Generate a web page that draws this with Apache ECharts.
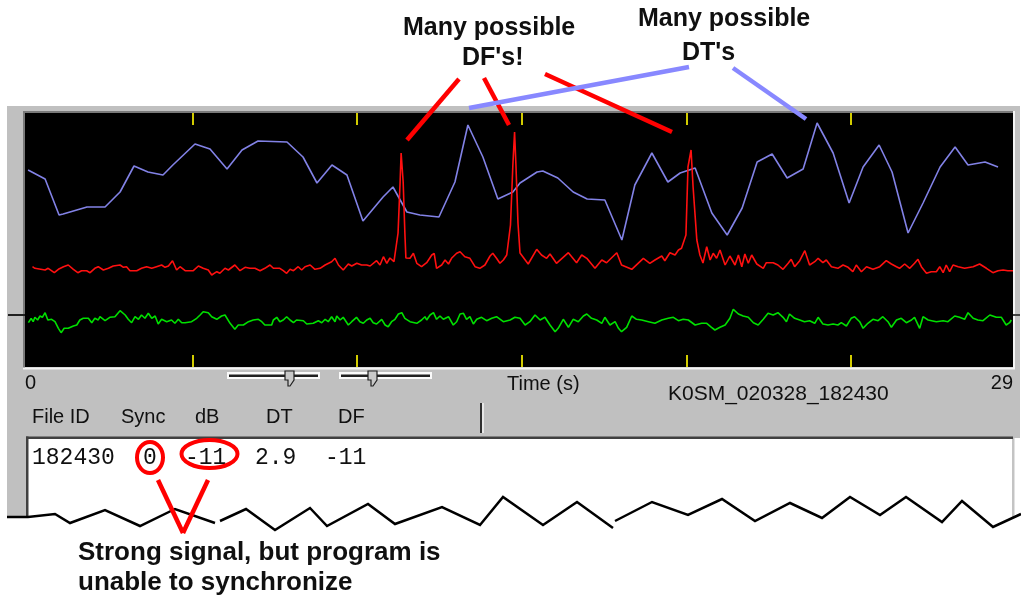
<!DOCTYPE html>
<html>
<head>
<meta charset="utf-8">
<script src="https://cdn.jsdelivr.net/npm/echarts@6.0.0/dist/echarts.min.js"></script>
<style>
html,body{margin:0;padding:0;background:#fff;}
#c{width:1021px;height:605px;}
</style>
</head>
<body>
<div id="c"></div>
<script>
// ---- data (time in seconds, amplitude in arbitrary display units) ----
const blueCurve = [[0.09,197],[0.59,188],[1.00,152],[1.12,153],[1.82,160],[2.35,160],[2.79,175],[3.20,201],[3.61,195],[4.05,192],[4.34,202],[4.99,223],[5.43,218],[5.93,198],[6.37,217],[6.84,226],[7.69,225],[8.16,210],[8.57,184],[9.01,202],[9.45,192],[9.92,146],[10.51,170],[10.80,180],[11.21,155],[11.59,152],[12.15,150],[12.62,185],[13.00,242],[13.44,210],[13.88,168],[14.32,175],[14.53,184],[15.03,195],[15.20,196],[15.64,189],[16.09,175],[16.50,168],[17.02,167],[17.52,127],[17.90,182],[18.40,214],[18.87,185],[19.23,194],[19.67,199],[20.16,154],[20.61,132],[21.05,159],[21.49,205],[21.93,213],[22.37,189],[22.84,198],[23.25,244],[23.72,214],[24.19,164],[24.60,200],[25.07,222],[25.45,195],[25.92,134],[26.36,164],[26.86,200],[27.30,220],[27.68,202],[28.18,205],[28.56,200]];

const redCurve = [[0.22,100.3],[0.29,98.7],[0.59,97],[0.68,98.7],[0.86,94.3],[0.98,97.7],[1.13,100.3],[1.27,102],[1.42,97.7],[1.55,94.3],[1.66,96.3],[1.81,96.3],[1.91,94.3],[2.05,98.7],[2.15,100.3],[2.30,97],[2.45,98.7],[2.59,101],[2.79,102],[2.89,99.7],[2.98,100.3],[3.08,96.3],[3.28,96.3],[3.42,98.7],[3.57,100.3],[3.72,98.7],[3.86,100.3],[4.01,102],[4.11,99.7],[4.21,101],[4.33,106.3],[4.45,97],[4.55,100.3],[4.70,96.3],[4.94,96.3],[5.09,101],[5.23,98.7],[5.38,97],[5.48,92],[5.63,95.3],[5.72,93.7],[5.87,98.7],[5.97,97],[6.16,102],[6.31,96.3],[6.46,99.7],[6.60,98.7],[6.75,98.7],[6.90,96.3],[7.04,98.7],[7.19,102],[7.29,98.7],[7.48,98.7],[7.58,96.3],[7.68,93.7],[7.78,97.7],[7.88,96.3],[8.02,100.3],[8.12,97],[8.22,100.3],[8.37,102],[8.51,97.7],[8.66,98.7],[8.81,102],[9.00,105.3],[9.10,108.7],[9.20,102],[9.34,97],[9.49,103],[9.59,101],[9.74,103.7],[9.88,102],[10.03,102],[10.13,101],[10.32,106.3],[10.42,102],[10.52,110.3],[10.62,103.7],[10.71,109],[10.76,111],[10.83,105.3],[10.95,134],[11.01,185],[11.04,214],[11.10,185],[11.15,134],[11.18,109],[11.30,108.7],[11.40,113.7],[11.50,103.7],[11.64,100.3],[11.79,104.3],[11.94,112],[12.01,113.7],[12.08,98.7],[12.23,102],[12.33,107],[12.43,103],[12.52,108.7],[12.67,113.7],[12.77,115.3],[12.91,110.3],[13.06,108.7],[13.21,100.3],[13.35,98.7],[13.50,102],[13.65,111],[13.73,113.7],[13.84,108.7],[13.94,103.7],[14.04,107],[14.14,112],[14.18,112],[14.25,142],[14.32,202],[14.37,235],[14.41,202],[14.47,144],[14.53,114],[14.77,103],[15.02,117.7],[15.16,112],[15.31,108.7],[15.41,113],[15.60,103.7],[15.95,114.3],[16.19,104.3],[16.34,112],[16.49,108.7],[16.73,98.7],[16.93,107],[17.07,104.3],[17.37,114.3],[17.51,102],[17.81,97.7],[18.15,108.7],[18.34,103.7],[18.49,107],[18.69,111],[18.78,106.3],[18.93,114.3],[19.08,112],[19.18,117],[19.27,118.7],[19.40,132],[19.46,200],[19.55,217],[19.61,180],[19.72,127],[19.81,112],[19.90,104],[20.01,120.3],[20.11,107],[20.20,113.7],[20.30,108.7],[20.40,117],[20.55,102],[20.69,111],[20.84,102],[20.94,112],[21.04,100.3],[21.13,113],[21.23,103.7],[21.33,112],[21.48,103],[21.67,98.7],[21.76,104.3],[21.96,104.3],[22.10,102],[22.25,97.7],[22.40,103.7],[22.49,107.7],[22.59,100.3],[22.74,106.3],[22.89,116.3],[23.03,102],[23.18,105.3],[23.28,108.7],[23.42,104.3],[23.52,107],[23.67,100.3],[23.86,98.7],[24.01,102],[24.16,99.7],[24.30,95.3],[24.40,102],[24.55,95.3],[24.70,100.3],[24.89,97.7],[25.09,100.3],[25.28,106.3],[25.43,103],[25.58,100.3],[25.67,98.7],[25.82,103],[25.97,98.7],[26.11,103.7],[26.21,107.7],[26.31,100.3],[26.46,93.7],[26.60,95.3],[26.75,95.3],[26.85,100.3],[26.95,94.3],[27.04,102],[27.14,95.3],[27.24,102],[27.39,100.3],[27.58,98.7],[27.83,100.3],[28.02,103],[28.22,98.7],[28.41,94.3],[28.56,96.3],[28.71,97],[28.85,96.3],[29.00,96.3]];

const greenCurve = [[0.10,44.3],[0.18,48.7],[0.24,45.3],[0.29,49.7],[0.37,47],[0.44,51],[0.51,49.7],[0.59,54.3],[0.67,47],[0.78,47.7],[0.88,45.3],[0.98,38.7],[1.06,34.3],[1.15,38.7],[1.27,38.7],[1.42,41],[1.52,42],[1.61,47],[1.71,48.7],[1.86,48.7],[1.96,44.3],[2.05,48.7],[2.15,47],[2.20,50.3],[2.35,46.3],[2.49,49.7],[2.64,50.3],[2.79,56.3],[2.94,52],[3.03,47.7],[3.13,44.3],[3.23,50.3],[3.33,47.7],[3.42,52],[3.52,48.7],[3.62,53.7],[3.72,48.7],[3.82,51],[3.91,43],[4.01,47.7],[4.16,45.3],[4.30,47],[4.40,43.7],[4.50,47.7],[4.60,44.3],[4.70,44.3],[4.89,45.3],[5.04,48.7],[5.14,52],[5.23,55.3],[5.38,54.3],[5.48,50.3],[5.63,47.7],[5.77,51],[5.87,52],[6.02,43.7],[6.16,37.7],[6.26,42],[6.41,42],[6.56,45.3],[6.70,47],[6.85,47.7],[6.95,45.3],[7.04,42],[7.24,42],[7.29,47],[7.39,49.7],[7.48,45.3],[7.58,47],[7.68,50.3],[7.78,47],[7.88,44.3],[7.97,47],[8.17,46.3],[8.27,43],[8.46,43.7],[8.61,46.3],[8.71,44.3],[8.81,47.7],[8.90,45.3],[9.00,50.3],[9.10,45.3],[9.15,51],[9.25,47],[9.34,49.7],[9.49,42],[9.59,45.3],[9.73,49.7],[9.83,45.3],[9.93,43.7],[10.03,47],[10.13,48.7],[10.22,44.3],[10.32,43],[10.47,47.7],[10.57,42],[10.66,40.3],[10.76,45.3],[10.86,47.7],[10.96,53],[11.06,54.3],[11.15,48.7],[11.30,45.3],[11.50,43.7],[11.64,47],[11.74,50.3],[11.79,47],[11.89,52],[11.99,54.3],[12.08,47.7],[12.18,51],[12.28,47.7],[12.43,50.3],[12.57,42],[12.67,45.3],[12.77,53],[12.87,53.7],[12.96,47.7],[13.06,50.3],[13.16,43],[13.26,47.7],[13.40,49.7],[13.55,46.3],[13.70,48.7],[13.84,50.3],[14.04,45.3],[14.24,47],[14.38,49.7],[14.53,48.7],[14.68,42],[14.82,45.3],[14.97,52],[15.12,47],[15.26,49.7],[15.41,42],[15.56,35.3],[15.65,38.7],[15.80,47.7],[15.95,39.7],[16.09,47.7],[16.24,45.3],[16.39,51],[16.49,53],[16.63,48.7],[16.78,47],[16.93,43.7],[17.02,49.7],[17.17,42],[17.32,45.3],[17.42,38.7],[17.51,35.3],[17.66,39.7],[17.81,51],[17.95,47.7],[18.10,47],[18.30,45.3],[18.49,43.7],[18.69,47],[18.88,48.7],[19.03,49.7],[19.18,46.3],[19.32,47.7],[19.47,47],[19.67,42],[19.86,43.7],[20.01,43.7],[20.15,39.7],[20.25,37],[20.40,39.7],[20.55,42],[20.69,48.7],[20.79,57.7],[20.94,53],[21.08,51],[21.23,49.7],[21.38,44.3],[21.52,42],[21.67,47.7],[21.81,53.7],[21.96,52],[22.10,54.3],[22.25,49.7],[22.35,45.3],[22.44,53],[22.59,48.7],[22.74,47],[22.88,45.3],[23.03,46.3],[23.18,43.7],[23.28,49.7],[23.42,43],[23.57,42],[23.72,43],[23.86,42],[23.96,44.3],[24.11,41],[24.25,48.7],[24.35,50.3],[24.50,45.3],[24.60,38.7],[24.74,43.7],[24.89,47.7],[25.04,46.3],[25.18,50.3],[25.33,45.3],[25.43,39.7],[25.58,47],[25.72,48.7],[25.87,44.3],[26.02,47],[26.11,49.7],[26.26,38.7],[26.36,50.3],[26.51,47],[26.75,45.3],[26.95,46.3],[27.09,45.3],[27.29,51],[27.43,49.7],[27.58,47.7],[27.68,54.3],[27.83,48.7],[27.97,47],[28.12,46.3],[28.32,52],[28.51,49.7],[28.66,49.7],[28.80,42],[28.90,44.3],[28.95,47]];

const xTickValues = [4.93, 9.75, 14.59, 19.43, 24.25];
const xLabelValues = [0, 29];
const yTickValues = [52];
const tableHeaders = ['File ID', 'Sync', 'dB', 'DT', 'DF'];
const tableRow = ['182430', '0', '-11', '2.9', '-11'];
const axisTitle = 'Time (s)';
const fileName = 'K0SM_020328_182430';
const noteDF = ['Many possible', "DF's!"];
const noteDT = ['Many possible', "DT's"];
const noteSync = ['Strong signal, but program is', 'unable to synchronize'];

// ---- layout / decoration ----
const SANS = "'Liberation Sans', Arial, sans-serif";
const MONO = "'Liberation Mono', 'Courier New', monospace";
const TXT = '#101010';

function text(str, x, y, size, opts) {
  opts = opts || {};
  return {
    type: 'text', z: opts.z || 50,
    style: {
      text: str, x: x, y: y, fill: opts.fill || TXT,
      font: (opts.weight || 'normal') + ' ' + size + 'px ' + (opts.family || SANS),
      textAlign: opts.align || 'left', textVerticalAlign: 'middle'
    }
  };
}
function seg(x1, y1, x2, y2, color, w, z) {
  return { type: 'line', z: z || 100, shape: {x1, y1, x2, y2},
    style: { stroke: color, lineWidth: w } };
}

const zig1 = [[7,517],[28,517],[55,514],[70,523],[105,510],[140,526],[175,509],[215,523]];
const zig2 = [[220,521],[246,509],[275,530],[310,508],[327,526],[368,504],[395,524],[442,507],[480,525],[503,497],[543,525],[577,502],[613,528]];
const zig3 = [[615,521],[652,502],[688,515],[722,499],[755,521],[790,503],[822,518],[850,497],[880,515],[906,497],[942,522],[962,501],[993,527],[1021,514]];
const cover = zig1.concat(zig2, zig3, [[1021,605],[0,605],[0,517]]);

const headerX = [32, 121, 195, 266, 338];
const rowX = [32, 143, 185, 255, 325];

const graphics = [
  // window panel
  { type: 'rect', z: -10, shape: {x: 7, y: 106, width: 1013, height: 411}, style: {fill: '#c0c0c0'} },
  // plot bevel
  { type: 'rect', z: -9, shape: {x: 23, y: 111, width: 992, height: 2}, style: {fill: '#7a7a7a'} },
  { type: 'rect', z: -9, shape: {x: 23, y: 111, width: 2, height: 257}, style: {fill: '#7a7a7a'} },
  { type: 'rect', z: -9, shape: {x: 23, y: 367.5, width: 992, height: 2}, style: {fill: '#f4f4f4'} },
  { type: 'rect', z: -9, shape: {x: 1013, y: 111, width: 2, height: 258}, style: {fill: '#f4f4f4'} },
  // list box
  { type: 'rect', z: -9, shape: {x: 27, y: 438, width: 994, height: 167}, style: {fill: '#ffffff'} },
  { type: 'rect', z: -8.9, shape: {x: 1012, y: 438, width: 2.5, height: 90}, style: {fill: '#c4c4c4'} },
  { type: 'rect', z: -8.5, shape: {x: 26, y: 436.5, width: 987, height: 2.5}, style: {fill: '#404040'} },
  { type: 'rect', z: -8.5, shape: {x: 26, y: 436.5, width: 2.5, height: 100}, style: {fill: '#404040'} },
  // torn-off edge
  { type: 'polygon', z: -8, shape: {points: cover}, style: {fill: '#ffffff'} },
  { type: 'polyline', z: -7, shape: {points: zig1}, style: {stroke: '#000', lineWidth: 2.5, fill: null} },
  { type: 'polyline', z: -7, shape: {points: zig2}, style: {stroke: '#000', lineWidth: 2.5, fill: null} },
  { type: 'polyline', z: -7, shape: {points: zig3}, style: {stroke: '#000', lineWidth: 2.5, fill: null} },
  // sliders
  { type: 'rect', z: 5, shape: {x: 227, y: 372, width: 93, height: 7}, style: {fill: '#fafafa'} },
  { type: 'rect', z: 6, shape: {x: 229, y: 374.5, width: 89, height: 2.5}, style: {fill: '#202020'} },
  { type: 'polygon', z: 7, shape: {points: [[285,371],[294,371],[294,380],[290,386],[288,386],[288,380],[285,380]]}, style: {fill: '#c8c8c8', stroke: '#202020', lineWidth: 1.2} },
  { type: 'rect', z: 5, shape: {x: 339, y: 372, width: 93, height: 7}, style: {fill: '#fafafa'} },
  { type: 'rect', z: 6, shape: {x: 341, y: 374.5, width: 89, height: 2.5}, style: {fill: '#202020'} },
  { type: 'polygon', z: 7, shape: {points: [[368,371],[377,371],[377,380],[373,386],[371,386],[371,380],[368,380]]}, style: {fill: '#c8c8c8', stroke: '#202020', lineWidth: 1.2} },
  // header separator
  seg(481, 403, 481, 433, '#303030', 2, 5),
  seg(483, 403, 483, 433, '#f4f4f4', 1.5, 5),
  // labels in panel
  text(axisTitle, 507, 384, 20),
  text(fileName, 668, 394, 21),
  // annotation texts
  text(noteDF[0], 403, 28, 25, {weight: 'bold'}),
  text(noteDF[1], 462, 58, 25, {weight: 'bold'}),
  text(noteDT[0], 638, 19.5, 25, {weight: 'bold'}),
  text(noteDT[1], 682, 53, 25, {weight: 'bold'}),
  text(noteSync[0], 78, 552.5, 26, {weight: 'bold'}),
  text(noteSync[1], 78, 582.5, 26, {weight: 'bold'}),
  // red pointers
  seg(459, 79, 407, 140, '#ff0000', 4.5),
  seg(484, 78, 509, 125, '#ff0000', 4.5),
  seg(545, 74, 672, 132, '#ff0000', 4.5),
  // blue pointers
  seg(469, 108, 689, 67, '#8888ff', 4.5, 101),
  seg(733, 68, 806, 119, '#8888ff', 4.5, 101),
  // circles in the list
  { type: 'ellipse', z: 100, shape: {cx: 150, cy: 457.5, rx: 13, ry: 15.5}, style: {stroke: '#ff0000', lineWidth: 4, fill: null} },
  { type: 'ellipse', z: 100, shape: {cx: 209.5, cy: 454, rx: 28, ry: 14}, style: {stroke: '#ff0000', lineWidth: 4, fill: null} },
  seg(158, 480, 183, 533, '#ff0000', 4.5),
  seg(208, 480, 183, 533, '#ff0000', 4.5)
];
tableHeaders.forEach((h, i) => graphics.push(text(h, headerX[i], 417, 20)));
tableRow.forEach((c, i) => graphics.push(text(c, rowX[i], 458, 23, {family: MONO})));

const chart = echarts.init(document.getElementById('c'), null, {renderer: 'canvas'});
function tickStyle() {
  return {show: true, inside: true, length: 12, customValues: xTickValues.slice(), lineStyle: {color: '#d2cc00', width: 2}};
}
chart.setOption({
  animation: false,
  backgroundColor: '#ffffff',
  grid: {left: 25, top: 113, width: 988, height: 254, show: true, backgroundColor: '#000000', borderWidth: 0, containLabel: false},
  xAxis: [
    {type: 'value', position: 'bottom', min: 0, max: 29,
     axisLine: {show: false, onZero: false}, splitLine: {show: false}, axisTick: tickStyle(),
     axisLabel: {show: true, customValues: xLabelValues, color: TXT, fontSize: 20, fontFamily: SANS, margin: 6,
                 alignMinLabel: 'left', alignMaxLabel: 'right', showMinLabel: true, showMaxLabel: true}},
    {type: 'value', position: 'top', min: 0, max: 29,
     axisLine: {show: false, onZero: false}, splitLine: {show: false}, axisTick: tickStyle(),
     axisLabel: {show: true, customValues: xTickValues.slice(), formatter: function () { return ''; }}}
  ],
  yAxis: [
    {type: 'value', position: 'left', min: 0, max: 254, axisLine: {show: false, onZero: false}, splitLine: {show: false},
     axisLabel: {show: false}, axisTick: {show: true, inside: false, length: 17, customValues: yTickValues, lineStyle: {color: '#202020', width: 2}}},
    {type: 'value', position: 'right', min: 0, max: 254, axisLine: {show: false, onZero: false}, splitLine: {show: false},
     axisLabel: {show: false}, axisTick: {show: true, inside: false, length: 7, customValues: yTickValues, lineStyle: {color: '#404040', width: 2}}}
  ],
  series: [
    {type: 'line', name: 'sync', data: blueCurve, showSymbol: false, symbol: 'none', lineStyle: {color: '#8282e6', width: 1.6}, z: 2},
    {type: 'line', name: 'spectrum', data: redCurve, showSymbol: false, symbol: 'none', lineStyle: {color: '#ff1010', width: 1.6}, z: 3},
    {type: 'line', name: 'power', data: greenCurve, showSymbol: false, symbol: 'none', lineStyle: {color: '#00e000', width: 1.6}, z: 3}
  ],
  graphic: {elements: graphics}
});
</script>
</body>
</html>
